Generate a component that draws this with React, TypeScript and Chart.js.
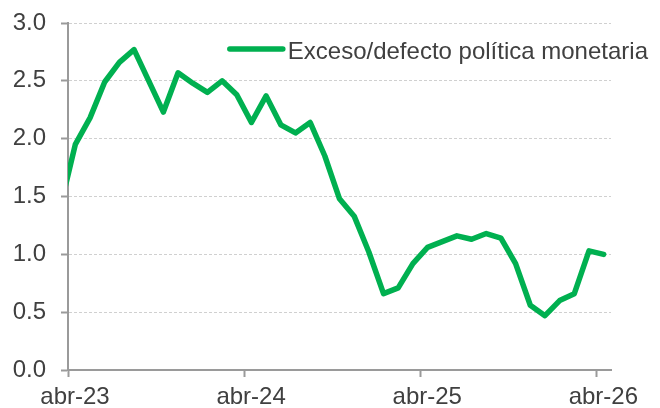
import React, { useEffect, useRef } from 'react';
import { Chart, registerables } from 'chart.js';

Chart.register(...registerables);

const months = [
  'mar-23', 'abr-23', 'may-23', 'jun-23', 'jul-23', 'ago-23', 'sep-23', 'oct-23', 'nov-23', 'dic-23',
  'ene-24', 'feb-24', 'mar-24', 'abr-24', 'may-24', 'jun-24', 'jul-24', 'ago-24', 'sep-24', 'oct-24', 'nov-24', 'dic-24',
  'ene-25', 'feb-25', 'mar-25', 'abr-25', 'may-25', 'jun-25', 'jul-25', 'ago-25', 'sep-25', 'oct-25', 'nov-25', 'dic-25',
  'ene-26', 'feb-26', 'mar-26', 'abr-26',
];

const exceso = [
  1.42, 1.95, 2.18, 2.49, 2.66, 2.77, 2.5, 2.23, 2.57, 2.48,
  2.4, 2.5, 2.38, 2.14, 2.37, 2.12, 2.05, 2.14, 1.85, 1.48, 1.33, 1.02,
  0.66, 0.71, 0.92, 1.06, 1.11, 1.16, 1.13, 1.18, 1.14, 0.92, 0.56, 0.47,
  0.6, 0.66, 1.03, 1.0,
];

const tickLabels = ['abr-23', 'abr-24', 'abr-25', 'abr-26'];
const yTicks = [0, 0.5, 1, 1.5, 2, 2.5, 3];
const seriesLabel = 'Exceso/defecto política monetaria';

const GREEN = '#00b050';
const AXIS = '#9a9a9a';
const GRID = '#d0d0d0';
const TEXT = '#404040';
const FONT = '"Liberation Sans", Arial, sans-serif';
const FS = 24;

const legendPlugin = {
  id: 'cornerLegend',
  afterDraw(chart: any) {
    const ctx = chart.ctx;
    const ds = chart.data.datasets[0];
    ctx.save();
    ctx.font = `${FS}px ${FONT}`;
    const tw = ctx.measureText(ds.label).width;
    const right = chart.width - 12;
    const tx = right - tw;
    const cy = 49;
    ctx.fillStyle = TEXT;
    ctx.textBaseline = 'alphabetic';
    ctx.textAlign = 'left';
    ctx.fillText(ds.label, tx, cy + 10);
    ctx.strokeStyle = ds.borderColor;
    ctx.lineWidth = 5.5;
    ctx.lineCap = 'round';
    ctx.beginPath();
    ctx.moveTo(tx - 58, cy);
    ctx.lineTo(tx - 5, cy);
    ctx.stroke();
    ctx.restore();
  },
};

export default function App() {
  const ref = useRef<HTMLCanvasElement | null>(null);

  useEffect(() => {
    document.body.style.margin = '0';
    const canvas = ref.current;
    if (!canvas) return;
    const points = exceso.map((v, i) => ({ x: i - 0.5, y: v }));
    const tickPos = tickLabels.map((l) => months.indexOf(l) - 1);
    const chart = new Chart(canvas, {
      type: 'line',
      data: {
        datasets: [
          {
            label: seriesLabel,
            data: points,
            borderColor: GREEN,
            backgroundColor: GREEN,
            borderWidth: 5.5,
            pointRadius: 0,
            pointHoverRadius: 0,
            tension: 0,
            borderJoinStyle: 'round',
            borderCapStyle: 'round',
            clip: 0,
          } as any,
        ],
      },
      options: {
        animation: false,
        responsive: false,
        maintainAspectRatio: false,
        layout: { padding: { top: 23, right: 49, left: 0, bottom: 0 } },
        plugins: {
          legend: { display: false },
          tooltip: { enabled: false },
        },
        scales: {
          x: {
            type: 'linear',
            min: 0,
            max: 37,
            afterFit: (s: any) => {
              s.height = 38;
              s.paddingLeft = 0;
              s.paddingRight = 0;
            },
            afterBuildTicks: (s: any) => {
              s.ticks = tickPos.map((v) => ({ value: v }));
            },
            grid: {
              drawOnChartArea: false,
              drawTicks: true,
              tickLength: 7,
              tickColor: AXIS,
              tickWidth: 2,
            },
            border: { display: true, color: AXIS, width: 2 },
            ticks: {
              autoSkip: false,
              maxRotation: 0,
              padding: 6,
              labelOffset: 7,
              color: TEXT,
              font: { family: FONT, size: FS },
              callback: (v: any) => tickLabels[tickPos.indexOf(Number(v))] ?? '',
            },
          },
          y: {
            type: 'linear',
            min: 0,
            max: 3,
            afterFit: (s: any) => {
              s.width = 68;
              s.paddingTop = 0;
              s.paddingBottom = 0;
            },
            afterBuildTicks: (s: any) => {
              s.ticks = yTicks.map((v) => ({ value: v }));
            },
            grid: {
              color: GRID,
              lineWidth: 1,
              drawTicks: true,
              tickLength: 7,
              tickColor: AXIS,
              tickWidth: 2,
              tickBorderDash: [],
            },
            border: { display: true, color: AXIS, width: 2, dash: [3, 2] },
            ticks: {
              padding: 15,
              color: TEXT,
              font: { family: FONT, size: FS },
              callback: (v: any) => Number(v).toFixed(1),
            },
          },
        },
      },
      plugins: [legendPlugin],
    });
    return () => chart.destroy();
  }, []);

  return (
    <div style={{ width: 660, height: 408, background: '#fff' }}>
      <canvas ref={ref} width={660} height={408} style={{ display: 'block' }} />
    </div>
  );
}
